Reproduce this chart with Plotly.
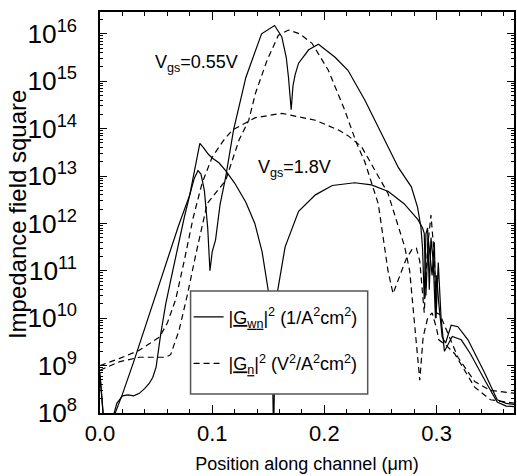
import plotly.graph_objects as go

# ---- data (x in micrometres, y = impedance field square) ----
# Solid, Vgs = 0.55 V  (|G_wn|^2)
xa_solid = [0.0, 0.002, 0.0045, 0.012, 0.02, 0.03, 0.04, 0.054, 0.07, 0.08, 0.084, 0.0873, 0.09, 0.093, 0.096,
            0.098, 0.1, 0.103, 0.107, 0.112, 0.119, 0.13, 0.144, 0.1556, 0.162, 0.166, 0.168, 0.1704, 0.172,
            0.174, 0.177, 0.186, 0.1947, 0.2095, 0.221, 0.236, 0.251, 0.266, 0.2775, 0.283, 0.286, 0.2875,
            0.289, 0.2905, 0.292, 0.2935, 0.295, 0.297, 0.299, 0.3, 0.302, 0.305, 0.308, 0.313, 0.319, 0.328,
            0.343, 0.354, 0.362, 0.37]
ya_solid = [7.0e8, 2.0e8, 3.0e7, 8.0e7, 2.5e8, 1.2e9, 6.3e9, 6.3e10, 8.9e11, 4.0e12, 8.9e12, 1.3e13, 1.1e13, 5.0e12,
            8.0e11, 1.0e11, 2.5e11, 4.5e11, 2.5e12, 9.5e12, 9.3e13, 1.2e15, 1.0e16, 1.5e16, 8.7e15, 3.2e15,
            1.2e15, 2.5e14, 8.0e14, 1.4e15, 2.4e15, 4.6e15, 6.0e15, 3.2e15, 1.7e15, 4.0e14, 7.9e13, 1.5e13,
            5.9e12, 2.2e12, 8.5e11, 3.0e11, 2.5e10, 6.0e11, 8.0e11, 4.0e10, 5.0e11, 1.6e11, 1.0e10, 8.0e10,
            2.0e10, 4.0e9, 3.0e9, 7.1e9, 6.6e9, 3.5e9, 6.9e8, 1.9e8, 1.6e8, 1.5e8]

# Solid, Vgs = 1.8 V  (|G_wn|^2)
xb_solid = [0.0, 0.002, 0.0045, 0.0115, 0.015, 0.02, 0.025, 0.03, 0.035, 0.04, 0.0438, 0.047, 0.05, 0.0542,
            0.0586, 0.063, 0.07, 0.075, 0.08, 0.085, 0.0875, 0.089, 0.092, 0.097, 0.1, 0.106, 0.112, 0.12, 0.13,
            0.138, 0.1445, 0.1505, 0.1535, 0.1547, 0.156, 0.1585, 0.165, 0.177, 0.192, 0.207, 0.227, 0.242,
            0.257, 0.271, 0.2834, 0.2875, 0.289, 0.2905, 0.2925, 0.294, 0.296, 0.298, 0.2995, 0.3015, 0.304,
            0.307, 0.314, 0.322, 0.33, 0.343, 0.354, 0.362, 0.37]
yb_solid = [6.0e8, 1.5e8, 3.0e7, 8.0e7, 1.6e8, 2.3e8, 2.4e8, 2.3e8, 2.6e8, 3.3e8, 4.2e8, 5.6e8, 9.3e8, 4.8e9,
            2.0e10, 6.3e10, 4.0e11, 1.3e12, 4.0e12, 1.8e13, 3.6e13, 4.9e13, 4.0e13, 2.8e13, 2.4e13, 1.9e13,
            1.3e13, 7.1e12, 2.8e12, 1.0e12, 2.5e11, 3.2e10, 2.0e9, 3.0e7, 2.0e9, 4.0e10, 3.2e11, 1.8e12,
            4.0e12, 6.3e12, 7.2e12, 6.5e12, 4.7e12, 2.6e12, 1.2e12, 8.0e11, 6.2e11, 3.0e10, 5.0e11, 2.0e11,
            8.0e10, 4.0e11, 1.0e10, 1.5e11, 1.0e10, 2.0e9, 4.1e9, 3.5e9, 1.8e9, 4.9e8, 1.7e8, 1.4e8, 1.35e8]

# Dashed, Vgs = 0.55 V  (|G_n|^2)
xa_dash = [0.0, 0.017, 0.035, 0.0586, 0.063, 0.0705, 0.078, 0.085, 0.0955, 0.106, 0.112, 0.124, 0.1326, 0.1385,
           0.149, 0.159, 0.168, 0.178, 0.189, 0.2035, 0.218, 0.2287, 0.236, 0.248, 0.2567, 0.2612, 0.267, 0.273,
           0.278, 0.282, 0.285, 0.289, 0.292, 0.295, 0.298, 0.2997, 0.303, 0.31, 0.319, 0.334, 0.348, 0.37]
ya_dash = [8.0e8, 1.2e9, 1.5e9, 1.5e9, 1.7e9, 5.6e9, 3.2e10, 2.0e11, 2.6e12, 5.2e12, 8.1e12, 5.8e13, 1.5e14,
           5.5e14, 2.8e15, 9.3e15, 1.2e16, 1.0e16, 6.3e15, 1.7e15, 2.5e14, 4.9e13, 2.0e13, 2.6e12, 1.0e11,
           3.3e10, 8.0e10, 1.8e11, 2.8e11, 3.0e11, 1.6e11, 1.3e10, 3.2e11, 1.5e12, 2.0e11, 1.3e10, 1.2e10,
           5.0e9, 1.5e9, 4.6e8, 3.0e8, 2.6e8]

# Dashed, Vgs = 1.8 V  (|G_n|^2)
xb_dash = [0.0, 0.017, 0.035, 0.053, 0.06, 0.0675, 0.075, 0.083, 0.091, 0.1, 0.11, 0.118, 0.1385, 0.162, 0.192,
           0.2127, 0.221, 0.233, 0.2567, 0.2716, 0.276, 0.28, 0.285, 0.288, 0.292, 0.296, 0.3, 0.302, 0.309,
           0.316, 0.325, 0.334, 0.348, 0.37]
yb_dash = [1.0e9, 1.4e9, 2.1e9, 4.0e9, 7.9e9, 2.5e10, 1.6e11, 1.3e12, 7.1e12, 2.5e13, 5.6e13, 9.3e13, 1.7e14,
           2.1e14, 1.5e14, 9.3e13, 7.1e13, 4.2e13, 4.3e12, 3.2e11, 1.0e11, 1.0e10, 4.9e8, 4.0e9, 1.0e10,
           1.3e10, 6.0e9, 3.5e9, 2.6e9, 1.8e9, 8.0e8, 3.5e8, 1.9e8, 1.6e8]

x_tick_vals = [0.0, 0.1, 0.2, 0.3]
x_tick_text = ["0.0", "0.1", "0.2", "0.3"]
legend_solid = "|<u>G<sub>w</sub><sub>n</sub></u>|<sup>2</sup> (1/A<sup>2</sup>cm<sup>2</sup>)"
legend_dash = "|<u>G<sub>n</sub></u>|<sup>2</sup> (V<sup>2</sup>/A<sup>2</sup>cm<sup>2</sup>)"

FONT = "Liberation Sans, Arial, Helvetica, sans-serif"
DASH = "6px,4px"

fig = go.Figure()
fig.add_trace(go.Scatter(x=xa_solid, y=ya_solid, mode="lines", line=dict(color="black", width=1.2),
                         name=legend_solid, legendgroup="s", showlegend=True))
fig.add_trace(go.Scatter(x=xb_solid, y=yb_solid, mode="lines", line=dict(color="black", width=1.2),
                         legendgroup="s", showlegend=False))
fig.add_trace(go.Scatter(x=xa_dash, y=ya_dash, mode="lines", line=dict(color="black", width=1.2, dash=DASH),
                         name=legend_dash, legendgroup="d", showlegend=True))
fig.add_trace(go.Scatter(x=xb_dash, y=yb_dash, mode="lines", line=dict(color="black", width=1.2, dash=DASH),
                         legendgroup="d", showlegend=False))

fig.add_annotation(x=0.047, y=15.37, xref="x", yref="y", xanchor="left", text="V<sub>gs</sub>=0.55V",
                   showarrow=False, font=dict(family=FONT, size=18, color="black"))
fig.add_annotation(x=0.139, y=13.15, xref="x", yref="y", xanchor="left", text="V<sub>gs</sub>=1.8V",
                   showarrow=False, font=dict(family=FONT, size=18, color="black"))
# y-axis title placed as rotated text left of the tick labels
fig.add_annotation(x=-0.1995, y=0.497, xref="paper", yref="paper", xanchor="center", yanchor="middle",
                   text="Impedance field square", textangle=-90, showarrow=False,
                   font=dict(family=FONT, size=24, color="black"))

# legend frame
fig.add_shape(type="rect", xref="paper", yref="paper", x0=0.21875, x1=0.6466, y0=0.0471, y1=0.304,
              line=dict(color="#555555", width=1.5), fillcolor="white", layer="above")

fig.update_layout(
    width=517, height=476,
    margin=dict(l=100, r=1, t=12, b=63),
    paper_bgcolor="white", plot_bgcolor="white",
    font=dict(family=FONT, color="black"),
    showlegend=True,
    legend=dict(x=0.214, y=0.285, xanchor="left", yanchor="top", bgcolor="rgba(0,0,0,0)",
                borderwidth=0, font=dict(family=FONT, size=18, color="black"),
                tracegroupgap=20, traceorder="grouped", itemwidth=30),
    xaxis=dict(range=[0, 0.369], tickvals=x_tick_vals, ticktext=x_tick_text, ticks="inside", ticklen=8,
               tickwidth=1, tickcolor="black", showline=True, linecolor="black", linewidth=1.5,
               mirror="allticks", showgrid=False, zeroline=False,
               minor=dict(dtick=0.02, tick0=0, ticks="inside", ticklen=4, tickcolor="black"),
               tickfont=dict(size=22), title=dict(text="Position along channel (\u03bcm)", font=dict(size=18),
                                                   standoff=12)),
    yaxis=dict(type="log", range=[8, 16.46], dtick=1, exponentformat="power", ticks="inside", ticklen=7,
               tickwidth=1, tickcolor="black", showline=True, linecolor="black", linewidth=1.5,
               mirror="allticks", showgrid=False, zeroline=False, ticklabelstandoff=17,
               minor=dict(ticks="inside", ticklen=3, tickcolor="black"),
               tickfont=dict(size=21)),
)

fig.write_html("out.html")
